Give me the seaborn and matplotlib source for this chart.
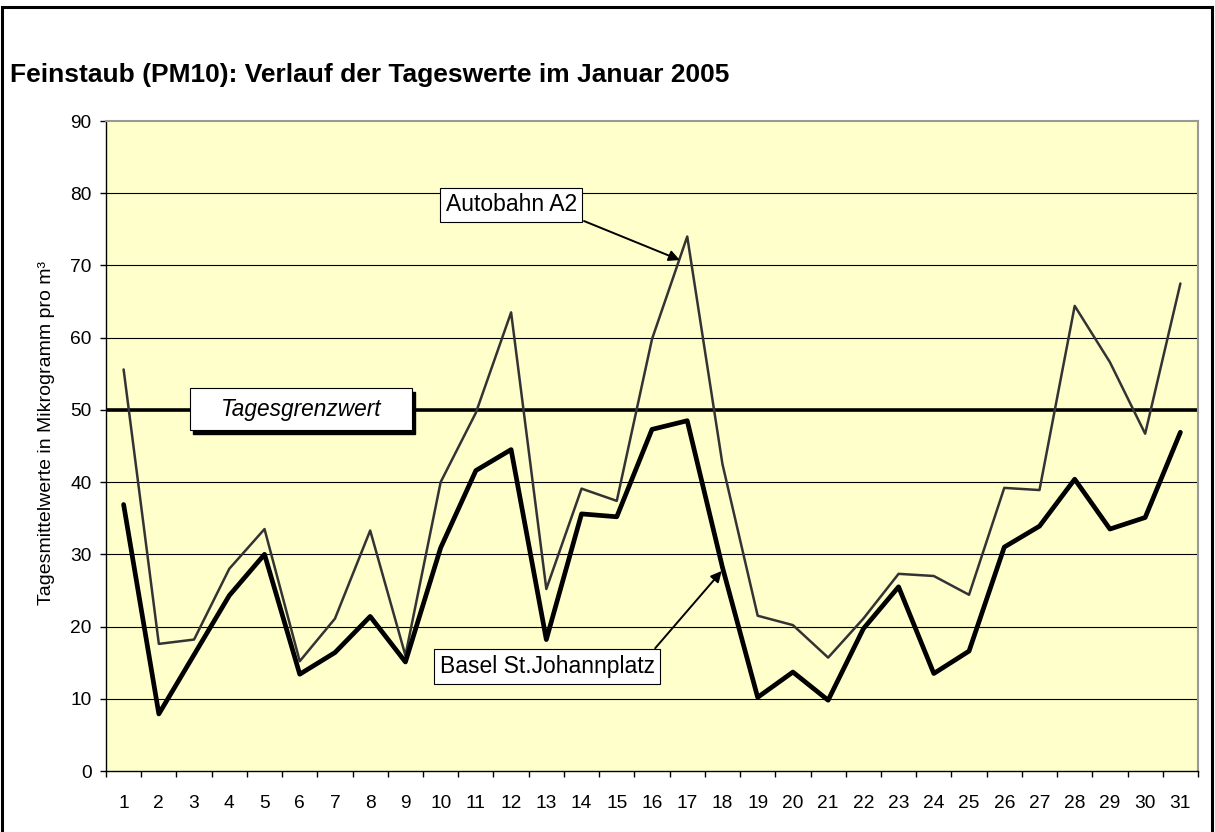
import pandas as pd
import matplotlib
matplotlib.use('Agg')
import matplotlib.pyplot as plt
from matplotlib.patches import Rectangle
from matplotlib.ticker import MultipleLocator, FixedLocator
import seaborn as sns

# Tageswerte Januar 2005
days = list(range(1, 32))
autobahn_a2 = [55.6, 17.6, 18.2, 28.0, 33.5, 15.2, 21.1, 33.3, 16.0, 40.0,
               49.6, 63.5, 25.2, 39.1, 37.4, 59.8, 74.0, 42.5, 21.5, 20.2,
               15.7, 21.1, 27.3, 27.0, 24.4, 39.2, 38.9, 64.4, 56.6, 46.7, 67.5]
basel_johann = [36.9, 7.9, 16.1, 24.3, 30.0, 13.4, 16.4, 21.4, 15.1, 30.9,
                41.6, 44.5, 18.2, 35.6, 35.2, 47.3, 48.5, 28.2, 10.2, 13.7,
                9.8, 19.7, 25.5, 13.5, 16.6, 31.0, 33.9, 40.4, 33.5, 35.1, 46.9]
grenzwert = 50

df = pd.DataFrame({'Tag': days, 'Autobahn A2': autobahn_a2,
                   'Basel St.Johannplatz': basel_johann})

sns.set_style('white')
plt.rcParams['font.family'] = ['Liberation Sans', 'DejaVu Sans']
plt.rcParams['text.color'] = 'black'
plt.rcParams['axes.labelcolor'] = 'black'
plt.rcParams['xtick.color'] = 'black'
plt.rcParams['ytick.color'] = 'black'

fig = plt.figure(figsize=(12.15, 8.32), dpi=100)
ax = fig.add_axes([106 / 1215, 61 / 832, 1092 / 1215, 650 / 832])
ax.set_facecolor('#FFFFCC')

# Gitterlinien
for yv in range(10, 90, 10):
    ax.axhline(yv, color='black', lw=0.8, zorder=1)

# Grenzwert
ax.axhline(grenzwert, color='black', lw=2.6, zorder=2)

sns.lineplot(data=df, x='Tag', y='Autobahn A2', ax=ax, color='#333333',
             lw=1.8, zorder=3)
sns.lineplot(data=df, x='Tag', y='Basel St.Johannplatz', ax=ax,
             color='black', lw=3.4, zorder=4)

ax.set_xlim(0.5, 31.5)
ax.set_ylim(0, 90)
ax.yaxis.set_major_locator(MultipleLocator(10))
ax.xaxis.set_major_locator(FixedLocator(days))
ax.set_xticklabels([str(d) for d in days])
ax.xaxis.set_minor_locator(FixedLocator([d + 0.5 for d in range(0, 32)]))
ax.tick_params(axis='x', which='major', length=0, pad=17, labelsize=13.8,
               labelcolor='black')
ax.tick_params(axis='x', which='minor', length=4.5, width=1, color='black',
               direction='out', bottom=True)
ax.tick_params(axis='y', which='major', length=4.5, width=1, color='black',
               direction='out', left=True, pad=6, labelsize=13.8,
               labelcolor='black')

ax.set_xlabel('')
ax.set_ylabel('Tagesmittelwerte in Mikrogramm pro m³', fontsize=14,
              color='black')
ax.yaxis.set_label_coords(-0.047, 0.52)

for side in ['left', 'bottom']:
    ax.spines[side].set_color('black')
    ax.spines[side].set_linewidth(1)
for side in ['top', 'right']:
    ax.spines[side].set_color('#999999')
    ax.spines[side].set_linewidth(1.5)

# Grenzwert-Beschriftung mit Schatten
ax.add_patch(Rectangle((2.97, 46.7), 6.30, 5.8, facecolor='black',
                       edgecolor='black', zorder=6))
ax.add_patch(Rectangle((2.885, 47.2), 6.30, 5.8, facecolor='white',
                       edgecolor='black', lw=0.8, zorder=7))
ax.text(6.04, 50.1, 'Tagesgrenzwert', fontsize=16.3, style='italic',
        ha='center', va='center', zorder=8, color='black')

# Beschriftungen der Linien
box = dict(boxstyle='square,pad=0.25', facecolor='white', edgecolor='black',
           lw=0.8)
ax.annotate('', xy=(16.79, 70.75), xytext=(14.07, 76.15),
            arrowprops=dict(arrowstyle='-|>', color='black', lw=1.4,
                            mutation_scale=16, shrinkA=0, shrinkB=0),
            zorder=6)
ax.text(12.0, 78.4, 'Autobahn A2', fontsize=16.5, ha='center', va='center',
        bbox=box, zorder=8, color='black')
ax.annotate('', xy=(17.98, 27.7), xytext=(16.09, 17.0),
            arrowprops=dict(arrowstyle='-|>', color='black', lw=1.4,
                            mutation_scale=16, shrinkA=0, shrinkB=0),
            zorder=6)
ax.text(13.02, 14.5, 'Basel St.Johannplatz', fontsize=16.5, ha='center',
        va='center', bbox=box, zorder=8, color='black')

fig.text(10 / 1215, 1 - 75 / 832,
         'Feinstaub (PM10): Verlauf der Tageswerte im Januar 2005',
         fontsize=19, fontweight='bold', ha='left', va='center',
         color='black')

# Rahmen um die Grafik
fig.patches.append(Rectangle((0.0015, -0.05), 0.996, 1.05 - 7 / 832,
                             transform=fig.transFigure, fill=False,
                             edgecolor='black', lw=2.2))

fig.savefig('out.png', dpi=100)
